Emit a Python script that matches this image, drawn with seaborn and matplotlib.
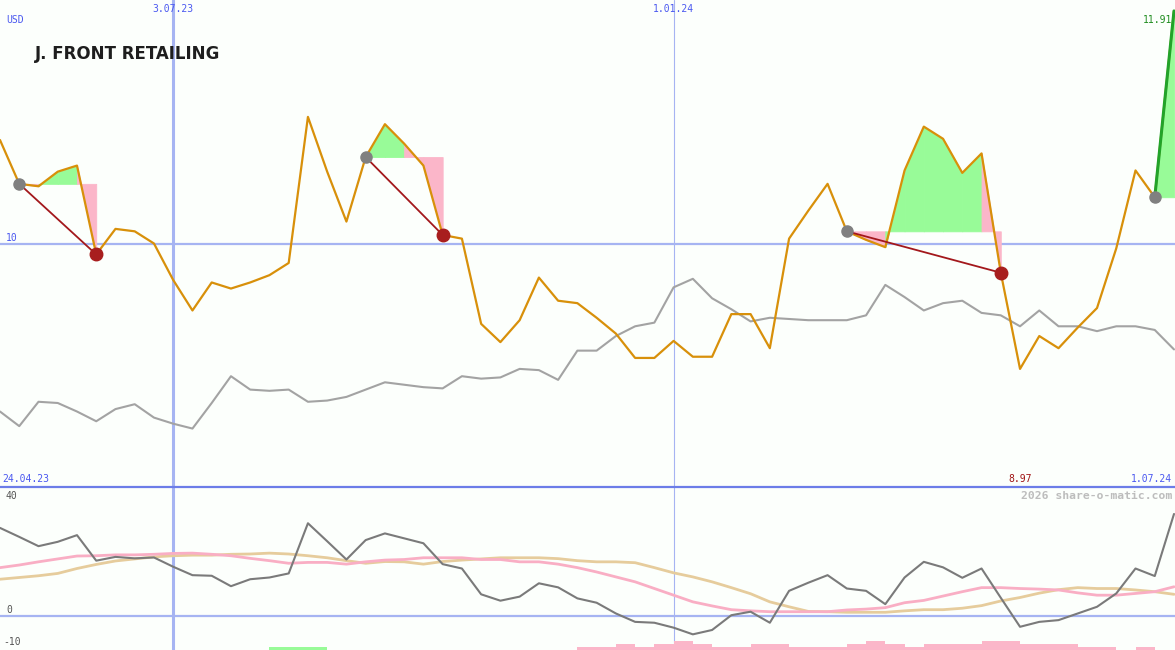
import matplotlib
matplotlib.use("Agg")
import matplotlib.pyplot as plt
import matplotlib.transforms as mtransforms
import numpy as np
import pandas as pd
import seaborn as sns

# weekly closes, 1.05.23 .. 1.07.24
dates = pd.date_range("2023-05-01", "2024-07-01", freq="7D")

price = [10.85, 10.49, 10.47, 10.59, 10.64, 9.91, 10.12, 10.10, 10.00, 9.70,
         9.45, 9.68, 9.63, 9.68, 9.74, 9.84, 11.04, 10.59, 10.18, 10.71,
         10.98, 10.82, 10.64, 10.07, 10.04, 9.34, 9.19, 9.37, 9.72, 9.53,
         9.51, 9.39, 9.26, 9.06, 9.06, 9.20, 9.07, 9.07, 9.42, 9.42,
         9.14, 10.04, 10.27, 10.49, 10.10, 10.03, 9.97, 10.60, 10.96, 10.86,
         10.58, 10.74, 9.76, 8.97, 9.24, 9.14, 9.31, 9.47, 9.96, 10.60,
         10.38, 11.91]

bench = [8.62, 8.50, 8.70, 8.69, 8.62, 8.54, 8.64, 8.68, 8.57, 8.52,
         8.48, 8.69, 8.91, 8.80, 8.79, 8.80, 8.70, 8.71, 8.74, 8.80,
         8.86, 8.84, 8.82, 8.81, 8.91, 8.89, 8.90, 8.97, 8.96, 8.88,
         9.12, 9.12, 9.24, 9.32, 9.35, 9.64, 9.71, 9.55, 9.46, 9.36,
         9.39, 9.38, 9.37, 9.37, 9.37, 9.41, 9.66, 9.56, 9.45, 9.51,
         9.53, 9.43, 9.41, 9.32, 9.45, 9.32, 9.32, 9.28, 9.32, 9.32,
         9.29, 9.13]

osc = [30.3, 27.2, 24.0, 25.5, 27.8, 19.0, 20.3, 19.8, 20.1, 16.9,
       14.0, 13.8, 10.2, 12.6, 13.2, 14.6, 31.9, 25.7, 19.4, 26.1,
       28.4, 26.7, 25.0, 17.8, 16.3, 7.4, 5.2, 6.6, 11.2, 9.8,
       6.0, 4.5, 0.8, -2.1, -2.4, -4.1, -6.4, -4.9, 0.2, 1.4,
       -2.4, 8.6, 11.4, 14.0, 9.4, 8.6, 4.0, 13.2, 18.6, 16.7,
       13.1, 16.3, 6.2, -3.8, -2.1, -1.5, 0.8, 3.1, 7.7, 16.3,
       13.7, 35.1]

ma_fast = [16.6, 17.5, 18.6, 19.6, 20.6, 20.7, 21.0, 21.0, 21.2, 21.5,
           21.6, 21.2, 20.7, 19.8, 19.0, 18.1, 18.4, 18.4, 17.8, 18.6,
           19.2, 19.4, 20.0, 20.0, 20.0, 19.4, 19.4, 18.6, 18.6, 17.8,
           16.6, 15.1, 13.4, 11.7, 9.4, 7.1, 4.8, 3.4, 2.1, 1.7,
           1.4, 1.4, 1.4, 1.4, 2.0, 2.3, 2.8, 4.5, 5.3, 6.8,
           8.3, 9.7, 9.7, 9.4, 9.2, 8.9, 7.9, 7.1, 7.1, 7.7,
           8.3, 10.0]

ma_slow = [12.6, 13.2, 13.8, 14.6, 16.3, 17.7, 18.9, 19.6, 20.3, 20.7,
           20.9, 20.9, 21.2, 21.3, 21.6, 21.3, 20.7, 20.0, 19.0, 18.1,
           18.7, 18.6, 17.8, 18.7, 19.2, 19.6, 20.0, 20.0, 20.0, 19.7,
           19.0, 18.6, 18.6, 18.3, 16.6, 14.8, 13.4, 11.7, 9.7, 7.6,
           4.8, 3.1, 1.5, 1.4, 1.2, 1.2, 1.2, 1.7, 2.1, 2.1,
           2.6, 3.5, 5.1, 6.3, 7.8, 9.0, 9.7, 9.4, 9.4, 8.9,
           8.3, 7.4]

# one value per week-step: + green, - pink
signal = [0] * 14 + [1, 1, 1] + [0] * 13 + [-1, -1, -2, -1, -2, -3, -2, -1, -1, -2,
          -2, -1, -1, -1, -2, -3, -2, -1, -2, -2,
          -2, -3, -3, -2, -2, -2, -1, -1, 0, -1, 0]

entries = [1, 19, 44, 60]
exits = [5, 23, 52, 61]

name = "J. FRONT RETAILING"
currency = "USD"
start_label = "24.04.23"
credit = "2026 share-o-matic.com"
marked_dates = ["2023-07-03", "2024-01-01"]

x = np.arange(len(price))
price = np.array(price)

sns.set_theme(style="white")
plt.rcParams["font.family"] = ["DejaVu Sans Mono", "DejaVu Sans"]

bg = "#fcfffc"
grid_blue = "#a6b4f2"
label_blue = "#4a58f0"
green_fill = "#98fb98"
pink_fill = "#fbb6c9"

W, H = 1175, 650
fig = plt.figure(figsize=(W / 100, H / 100), dpi=100, facecolor=bg)
split = 163 / H
ax = fig.add_axes([0, split, 1, 1 - split])
axb = fig.add_axes([0, 0, 1, split])
xmax = (len(price) - 1) * W / (W - 1)
for a in (ax, axb):
    a.set_facecolor(bg)
    a.set_xlim(0, xmax)
    a.set_xticks([])
    a.set_yticks([])
    for s in a.spines.values():
        s.set_visible(False)
ax.set_ylim(8, 12)
axb.set_ylim(-11.8, 44.4)
axb.spines["top"].set_visible(True)
axb.spines["top"].set_color("#6c7de8")
axb.spines["top"].set_linewidth(1.6)

# grid lines
ax.axhline(10, color=grid_blue, lw=1.6, zorder=1)
axb.axhline(0, color=grid_blue, lw=1.6, zorder=1)
for d, lw in zip(marked_dates, [2.2, 0.8]):
    i = dates.get_loc(pd.Timestamp(d))
    for a in (ax, axb):
        a.axvline(i, color=grid_blue, lw=lw, zorder=1)

# trade fills, coloured per week by where that week closed
for e, q in zip(entries, exits):
    lvl = price[e]
    for k in range(e, q):
        col = green_fill if price[k + 1] >= lvl else pink_fill
        ax.fill_between(x[k:k + 2], price[k:k + 2], lvl, facecolor=col,
                        edgecolor=col, lw=0.6, zorder=2)

sns.lineplot(x=x, y=bench, ax=ax, color="#a3a3a3", lw=1.5, zorder=3)
sns.lineplot(x=x, y=price, ax=ax, color="#d8900a", lw=1.6, zorder=4)

for e, q in zip(entries, exits):
    open_trade = q == len(price) - 1
    ax.plot([x[e], x[q]], [price[e], price[q]],
            color="#22a32a" if open_trade else "#a3181c",
            lw=2.2 if open_trade else 1.3, zorder=5)
    ax.plot(x[e], price[e], "o", color="#808080", ms=8, zorder=6)
    if not open_trade:
        ax.plot(x[q], price[q], "o", color="#a81e1e", ms=9, zorder=6)

# lower panel
sig = np.array(signal)
axb.bar(x[:-1], np.abs(sig), width=1, align="edge", bottom=-11.8,
        color=[green_fill if v > 0 else pink_fill for v in sig], lw=0, zorder=2)
sns.lineplot(x=x, y=ma_slow, ax=axb, color="#e6cc9c", lw=2.0, zorder=3)
sns.lineplot(x=x, y=ma_fast, ax=axb, color="#f9aec4", lw=2.0, zorder=3)
sns.lineplot(x=x, y=osc, ax=axb, color="#7a7a7a", lw=1.5, zorder=4)

# texts
def fpos(px, py):
    return px / W, 1 - py / H

fs = 7
fig.text(*fpos(6, 20), currency, color=label_blue, fontsize=fs, va="center")
fig.text(*fpos(6, 238), "10", color=label_blue, fontsize=fs, va="center")
fig.text(*fpos(2, 479), start_label, color=label_blue, fontsize=fs, va="center")
fig.text(*fpos(1172, 479), f"{dates[-1].day}.{dates[-1].month:02d}.{dates[-1].year % 100}",
         color=label_blue, fontsize=fs, va="center", ha="right")
fig.text(*fpos(1172, 20), f"{price[-1]:.2f}", color="#1e8c1e", fontsize=fs,
         va="center", ha="right")
fig.text(*fpos(1172, 496), credit, color="#bdbdbd", fontsize=8.2,
         fontweight="bold", va="center", ha="right")
fig.text(*fpos(6, 496), "40", color="#555555", fontsize=fs, va="center")
fig.text(*fpos(6, 610), "0", color="#555555", fontsize=fs, va="center")
fig.text(*fpos(3, 642), "-10", color="#555555", fontsize=fs, va="center")

top_tr = mtransforms.blended_transform_factory(ax.transData, fig.transFigure)
for d in marked_dates:
    t = pd.Timestamp(d)
    ax.text(dates.get_loc(t), 1 - 9 / H, f"{t.day}.{t.month:02d}.{t.year % 100}",
            transform=top_tr, color=label_blue, fontsize=fs, ha="center", va="center")
imin = int(np.argmin(price))
ax.text(imin, 1 - 479 / H, f"{price[imin]:.2f}", transform=top_tr,
        color="#a01414", fontsize=fs, ha="center", va="center")

fig.text(*fpos(35, 54), name, color="#1e1e1e", fontsize=13.3, va="center",
         family="DejaVu Sans", fontstretch="condensed", fontweight="bold")

fig.savefig("out.png", dpi=100, facecolor=bg)
